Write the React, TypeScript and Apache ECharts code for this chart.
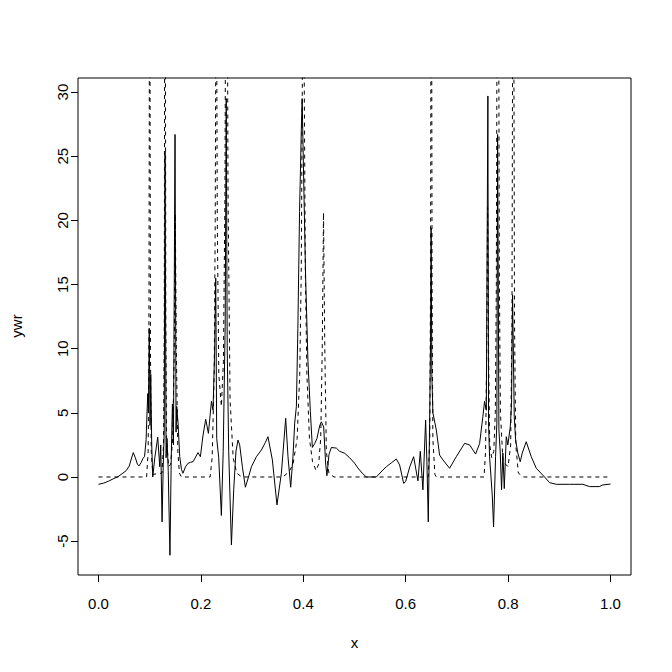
import React, { useEffect, useRef } from "react";
import * as echarts from "echarts";

const xTicks = [0, 0.2, 0.4, 0.6, 0.8, 1.0];
const yTicks = [-5, 0, 5, 10, 15, 20, 25, 30];

// reconstructed (solid) series: [x, ywr]
const ywr: [number, number][] = [
  [0.0, -0.57], [0.01, -0.48], [0.02, -0.32], [0.03, -0.12], [0.038, 0.02], [0.046, 0.25],
  [0.054, 0.49], [0.06, 0.85], [0.064, 1.4], [0.068, 1.9], [0.072, 1.5], [0.076, 1.0],
  [0.079, 0.86], [0.083, 1.1], [0.087, 1.45], [0.09, 1.6], [0.093, 2.9], [0.0943, 4.5],
  [0.0962, 6.5], [0.0975, 5.0], [0.0992, 11.6], [0.1007, 4.0], [0.1021, 8.0], [0.104, 2.5],
  [0.106, 0.0], [0.11, 1.5], [0.1157, 3.1], [0.1197, 0.8], [0.1216, 2.5], [0.1242, -3.5],
  [0.1265, 1.0], [0.1284, 3.5], [0.13, 25.4], [0.132, 1.5], [0.1339, 3.0], [0.1362, 0.5],
  [0.1396, -6.1], [0.1421, 1.5], [0.1444, 5.7], [0.1464, 2.5], [0.1495, 26.7], [0.1515, 3.5],
  [0.1528, 5.5], [0.1554, 4.2], [0.1587, 1.58], [0.162, 0.6], [0.165, 0.29], [0.17, 0.8],
  [0.175, 1.07], [0.18, 1.15], [0.1847, 1.19], [0.1944, 1.9], [0.199, 1.58], [0.204, 3.2],
  [0.2094, 4.5], [0.2147, 3.4], [0.2206, 5.9], [0.2237, 5.2], [0.227, 10.0], [0.229, 15.5],
  [0.2309, 3.0], [0.2348, 1.5], [0.24, -3.0], [0.2436, 2.0], [0.2475, 12.0], [0.2495, 29.5],
  [0.2514, 10.0], [0.2543, 2.0], [0.2596, -5.3], [0.2641, -1.0], [0.2685, 2.0], [0.2725, 2.88],
  [0.2758, 2.5], [0.281, 0.8], [0.2869, -0.8], [0.293, 0.0], [0.2987, 0.8], [0.3084, 1.58],
  [0.3182, 2.1], [0.326, 2.7], [0.331, 3.14], [0.3396, 1.33], [0.3486, -2.18], [0.3572, 0.3],
  [0.3656, 4.57], [0.3701, 1.58], [0.3754, -0.8], [0.3798, 1.58], [0.3832, 4.2], [0.3865, 5.5],
  [0.3894, 11.6], [0.3927, 20.7], [0.3962, 27.2], [0.3978, 29.5], [0.4007, 23.3], [0.4046, 15.5],
  [0.4091, 9.0], [0.4138, 5.1], [0.4177, 2.3], [0.4222, 2.6], [0.4267, 3.0], [0.432, 4.0],
  [0.4353, 4.3], [0.4398, 3.9], [0.4437, 1.0], [0.4462, 0.1], [0.4501, 1.74], [0.4548, 2.3],
  [0.4646, 2.25], [0.471, 2.0], [0.4808, 1.85], [0.4905, 1.5], [0.5003, 1.07], [0.5067, 0.7],
  [0.515, 0.3], [0.5231, 0.0], [0.5427, 0.0], [0.5555, 0.55], [0.5622, 0.8], [0.572, 1.1],
  [0.5817, 1.4], [0.5881, 0.94], [0.596, -0.5], [0.5998, -0.36], [0.608, 0.8], [0.6155, 1.58],
  [0.6239, -0.3], [0.6285, 2.0], [0.6336, -1.0], [0.6389, 4.44], [0.6414, 1.2], [0.6441, -3.5],
  [0.6467, 4.2], [0.6485, 10.5], [0.6497, 19.4], [0.651, 8.0], [0.6531, 5.0], [0.6598, 3.66],
  [0.6662, 1.71], [0.6727, 1.33], [0.6857, 0.68], [0.6988, 1.58], [0.715, 2.62], [0.7248, 2.5],
  [0.7365, 1.79], [0.7443, 2.6], [0.7507, 4.7], [0.754, 5.9], [0.7574, 5.2], [0.7605, 29.7],
  [0.7618, 4.2], [0.7638, 1.58], [0.769, -1.4], [0.7716, -3.9], [0.7755, 1.58], [0.778, 4.2],
  [0.7795, 26.7], [0.782, 3.7], [0.7847, 1.87], [0.7872, -1.0], [0.7898, 1.87], [0.7925, -0.9],
  [0.7964, 3.14], [0.7995, 2.5], [0.8042, 3.9], [0.8067, 5.7], [0.8087, 14.2], [0.812, 4.7],
  [0.8146, 2.9], [0.819, 1.87], [0.8237, 1.19], [0.8276, 1.87], [0.8354, 2.75], [0.8452, 1.58],
  [0.855, 0.68], [0.8712, 0.0], [0.881, -0.44], [0.894, -0.57], [0.92, -0.57], [0.946, -0.57],
  [0.959, -0.75], [0.978, -0.75], [0.985, -0.62], [1.0, -0.55],
];

// true signal (dashed) series: [x, y]
const trueSignal: [number, number][] = [
  [0, 0], [0.094, 0], [0.097, 2], [0.0985, 10], [0.1, 50], [0.1015, 10], [0.103, 2], [0.106, 0.2],
  [0.124, 0.3], [0.127, 2.5], [0.1285, 12], [0.13, 60], [0.1315, 12], [0.133, 3], [0.137, 0.8],
  [0.141, 1], [0.145, 3], [0.148, 10], [0.15, 20.5], [0.152, 10], [0.155, 2], [0.158, 0.3],
  [0.162, 0], [0.218, 0], [0.222, 1.5], [0.226, 8], [0.228, 20], [0.23, 45], [0.232, 20],
  [0.235, 8], [0.24, 5.5], [0.244, 9], [0.247, 22], [0.25, 60], [0.253, 22], [0.257, 6],
  [0.263, 1.5], [0.27, 0.3], [0.28, 0], [0.36, 0], [0.372, 0.4], [0.38, 1], [0.388, 3],
  [0.393, 8], [0.396, 16], [0.398, 30], [0.4, 48], [0.402, 30], [0.404, 16], [0.407, 8],
  [0.412, 3], [0.418, 1.2], [0.425, 0.5], [0.43, 1], [0.434, 3], [0.437, 10], [0.4395, 20.6],
  [0.442, 10], [0.445, 2], [0.45, 0.3], [0.46, 0], [0.644, 0], [0.647, 3], [0.6485, 15],
  [0.65, 55], [0.6515, 15], [0.653, 3], [0.657, 0.2], [0.66, 0], [0.753, 0], [0.756, 2],
  [0.758, 9], [0.76, 21], [0.762, 9], [0.764, 2.5], [0.768, 1.5], [0.772, 2], [0.775, 5],
  [0.777, 15], [0.78, 60], [0.783, 15], [0.785, 5], [0.79, 1.2], [0.8, 0.8], [0.805, 2.5],
  [0.8075, 12], [0.81, 55], [0.8125, 12], [0.815, 2.5], [0.82, 0.3], [0.83, 0], [1, 0],
];

const FONT = "Liberation Sans, Arial, sans-serif";
const FS = 15;

export default function App() {
  const ref = useRef<HTMLDivElement>(null);
  useEffect(() => {
    const chart = echarts.init(ref.current!, null, { renderer: "svg" });
    chart.setOption({
      animation: false,
      backgroundColor: "#ffffff",
      textStyle: { fontFamily: FONT },
      grid: {
        left: 78, top: 78, width: 553, height: 497,
        show: true, borderColor: "#000", borderWidth: 1, backgroundColor: "transparent",
      },
      xAxis: {
        type: "value", min: -0.04, max: 1.04,
        axisLine: { show: false, onZero: false },
        splitLine: { show: false },
        axisTick: { show: true, length: 7, lineStyle: { color: "#000", width: 1 }, customValues: xTicks },
        axisLabel: {
          customValues: xTicks, color: "#000", fontSize: FS, fontFamily: FONT, margin: 21,
          formatter: (v: number) => v.toFixed(1),
        },
      },
      yAxis: {
        type: "value", min: -7.64, max: 31.1,
        axisLine: { show: false, onZero: false },
        splitLine: { show: false },
        axisTick: { show: true, length: 7, lineStyle: { color: "#000", width: 1 }, customValues: yTicks },
        axisLabel: {
          customValues: yTicks, color: "#000", fontSize: FS, fontFamily: FONT, margin: 8, rotate: 90,
          formatter: (v: number) => String(v),
        },
      },
      graphic: [
        { type: "text", x: 354.5, y: 642, style: { text: "x", fontSize: FS, fontFamily: FONT, fill: "#000", textAlign: "center", textVerticalAlign: "middle" } },
        { type: "text", x: 16, y: 326, rotation: Math.PI / 2, style: { text: "ywr", fontSize: FS, fontFamily: FONT, fill: "#000", textAlign: "center", textVerticalAlign: "middle" } },
      ],
      series: [
        {
          type: "line", data: ywr, showSymbol: false, symbol: "none", clip: true,
          lineStyle: { color: "#000", width: 1 },
        },
        {
          type: "line", data: trueSignal, showSymbol: false, symbol: "none", clip: true,
          lineStyle: { color: "#000", width: 1, type: [4, 4] },
        },
      ],
    });
    return () => chart.dispose();
  }, []);
  return <div ref={ref} style={{ position: "fixed", left: 0, top: 0, width: 672, height: 672, background: "#fff" }} />;
}
